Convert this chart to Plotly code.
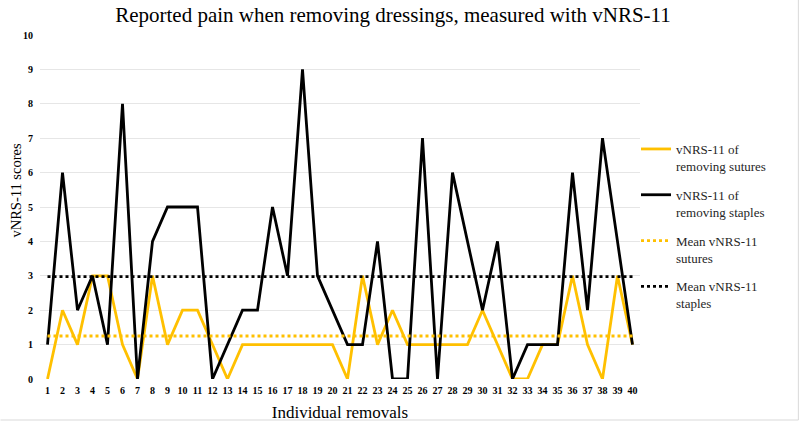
import plotly.graph_objects as go

removals = list(range(1, 41))
tick_labels = [str(i) for i in removals]
sutures = [0, 2, 1, 3, 3, 1, 0, 3, 1, 2, 2, 1, 0, 1, 1, 1, 1, 1, 1, 1,
           0, 3, 1, 2, 1, 1, 1, 1, 1, 2, 1, 0, 0, 1, 1, 3, 1, 0, 3, 1]
staples = [1, 6, 2, 3, 1, 8, 0, 4, 5, 5, 5, 0, 1, 2, 2, 5, 3, 9, 3, 2,
           1, 1, 4, 0, 0, 7, 0, 6, 4, 2, 4, 0, 1, 1, 1, 6, 2, 7, 4, 1]
mean_sutures = 1.25
mean_staples = 2.975

YELLOW = "#FFC000"
BLACK = "#000000"
FONT = "Times New Roman, Liberation Serif, serif"

fig = go.Figure()
fig.add_trace(go.Scatter(x=removals, y=sutures, mode="lines", legendgroup="a",
                         name="vNRS-11 of<br>removing sutures",
                         line=dict(color=YELLOW, width=2.8)))
fig.add_trace(go.Scatter(x=removals, y=staples, mode="lines", legendgroup="b",
                         name="vNRS-11 of<br>removing staples",
                         line=dict(color=BLACK, width=2.8)))
fig.add_trace(go.Scatter(x=removals, y=[mean_sutures] * len(removals), mode="lines",
                         legendgroup="c",
                         name="Mean vNRS-11<br>sutures",
                         line=dict(color=YELLOW, width=2.8, dash="dot")))
fig.add_trace(go.Scatter(x=removals, y=[mean_staples] * len(removals), mode="lines",
                         legendgroup="d",
                         name="Mean vNRS-11<br>staples",
                         line=dict(color=BLACK, width=2.8, dash="dot")))

W, H = 800, 422
L, R, T, B = 39.5, 160, 35, 43
pw, ph = W - L - R, H - T - B


def px_x(p):
    return (p - L) / pw


def px_y(p):
    return (H - B - p) / ph


fig.update_layout(
    width=W, height=H,
    margin=dict(l=L, r=R, t=T, b=B, autoexpand=False),
    paper_bgcolor="white", plot_bgcolor="white",
    font=dict(family=FONT, color="#000000"),
    title=dict(text="Reported pain when removing dressings, measured with vNRS-11",
               x=393 / W, xanchor="center", y=1 - 15 / H, yanchor="middle",
               font=dict(size=21, family=FONT, color="#000000")),
    xaxis=dict(range=[0.5, 40.5], tickmode="array", tickvals=removals,
               ticktext=tick_labels, showgrid=False, zeroline=False,
               automargin=False,
               tickfont=dict(size=10, family=FONT, color="#000000", weight="bold"),
               ticks="", showline=False, ticklabelstandoff=4,
               title=dict(text="Individual removals", font=dict(size=17, family=FONT),
                          standoff=12)),
    yaxis=dict(range=[0, 10], dtick=1, showgrid=True, gridcolor="#e6e6e6",
               gridwidth=1, zeroline=False, automargin=False,
               tickfont=dict(size=10, family=FONT, color="#000000", weight="bold"),
               ticks="", ticklabelstandoff=6),
    legend=dict(x=px_x(636), y=px_y(134), xanchor="left", yanchor="top",
                font=dict(size=13, family=FONT, color="#262626"),
                valign="top", tracegroupgap=9, itemwidth=30,
                traceorder="grouped",
                bgcolor="rgba(0,0,0,0)"),
    showlegend=True,
)

# y-axis title placed like the original (slightly above plot centre)
fig.add_annotation(text="vNRS-11 scores", textangle=-90, xref="paper", yref="paper",
                   x=px_x(15), y=px_y(191), xanchor="center", yanchor="middle",
                   showarrow=False, font=dict(size=14.5, family=FONT, color="#000000"))

# chart-area border (right and bottom edges)
fig.add_shape(type="line", xref="paper", yref="paper",
              x0=px_x(798.5), x1=px_x(798.5), y0=px_y(420), y1=px_y(0),
              line=dict(color="#d9d9d9", width=1))
fig.add_shape(type="line", xref="paper", yref="paper",
              x0=px_x(0), x1=px_x(798.5), y0=px_y(420), y1=px_y(420),
              line=dict(color="#d9d9d9", width=1))

fig.write_html("out.html", config={"displayModeBar": False},
               post_script="document.body.style.margin='0';document.body.style.overflow='hidden';")
